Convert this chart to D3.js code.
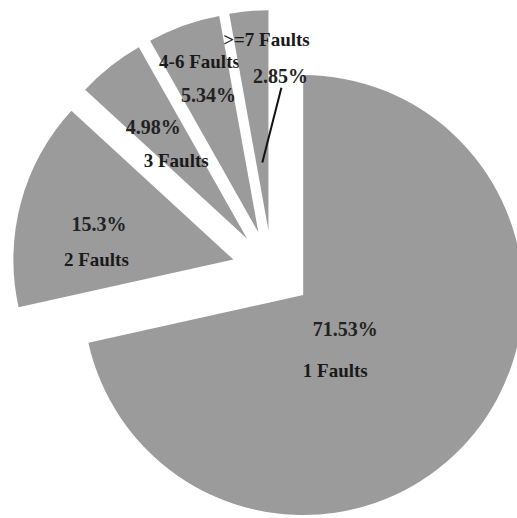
<!DOCTYPE html>
<html>
<head>
<meta charset="utf-8">
<script src="https://cdn.jsdelivr.net/npm/d3@7"></script>
<style>
  html, body { margin: 0; padding: 0; background: #fff; }
  svg { display: block; }
</style>
</head>
<body>
<div id="chart"></div>
<script>
// --- data ---
const categories = ['1 Faults', '2 Faults', '3 Faults', '4-6 Faults', '>=7 Faults'];
const percents = [71.53, 15.3, 4.98, 5.34, 2.85];
const percentLabels = ['71.53%', '15.3%', '4.98%', '5.34%', '2.85%'];

// --- layout ---
const width = 517, height = 518;
const cx = 272, cy = 270;      // pie centre before explosion
const radius = 220;
const explode = 40;             // every slice pulled out along its bisector

// label placement relative to each slice apex: radius (px), angle (deg, clockwise from 12 o'clock)
const pctPos  = [{ r: 54, a: 129 }, { r: 139, a: 285 }, { r: 146, a: 320 }, { r: 146, a: 340 }, { r: 155, a: 4.5 }];
const namePos = [{ r: 82, a: 157 }, { r: 137, a: 270 }, { r: 106, a: 318 }, { r: 181, a: 341 }, { r: 191, a: 359.4 }];

const polar = (r, ang) => [r * Math.sin(ang), -r * Math.cos(ang)];
const rad = deg => deg * Math.PI / 180;

const svg = d3.select('#chart').append('svg')
    .attr('width', width)
    .attr('height', height);

const root = svg.append('g').attr('transform', `translate(${cx},${cy})`);

const pie = d3.pie().sort(null).value(d => d);
const arcs = pie(percents);
const arc = d3.arc().innerRadius(0).outerRadius(radius);

const slices = root.selectAll('g.slice')
    .data(arcs)
    .enter()
    .append('g')
    .attr('class', 'slice')
    .attr('transform', d => {
        const [ox, oy] = polar(explode, (d.startAngle + d.endAngle) / 2);
        return `translate(${ox},${oy})`;
    });

slices.append('path')
    .attr('d', arc)
    .attr('fill', '#9b9b9b');

// leader line for the smallest slice
slices.filter((d, i) => i === 4)
    .append('line')
    .each(function(d) {
        const [x1, y1] = polar(143, rad(5.2));
        const [x2, y2] = polar(68, (d.startAngle + d.endAngle) / 2);
        d3.select(this)
            .attr('x1', x1).attr('y1', y1)
            .attr('x2', x2).attr('y2', y2);
    })
    .attr('stroke', '#111')
    .attr('stroke-width', 2);

slices.append('text')
    .text((d, i) => percentLabels[i])
    .attr('x', (d, i) => polar(pctPos[i].r, rad(pctPos[i].a))[0])
    .attr('y', (d, i) => polar(pctPos[i].r, rad(pctPos[i].a))[1])
    .attr('dy', '0.35em')
    .attr('text-anchor', 'middle')
    .attr('font-family', '"Liberation Serif", "Times New Roman", serif')
    .attr('font-size', '20px')
    .attr('font-weight', 'bold')
    .attr('fill', '#222');

slices.append('text')
    .text((d, i) => categories[i])
    .attr('x', (d, i) => polar(namePos[i].r, rad(namePos[i].a))[0])
    .attr('y', (d, i) => polar(namePos[i].r, rad(namePos[i].a))[1])
    .attr('dy', '0.35em')
    .attr('text-anchor', 'middle')
    .attr('font-family', '"Liberation Serif", "Times New Roman", serif')
    .attr('font-size', '19px')
    .attr('font-weight', 'bold')
    .attr('fill', '#1a1a1a');
</script>
</body>
</html>
